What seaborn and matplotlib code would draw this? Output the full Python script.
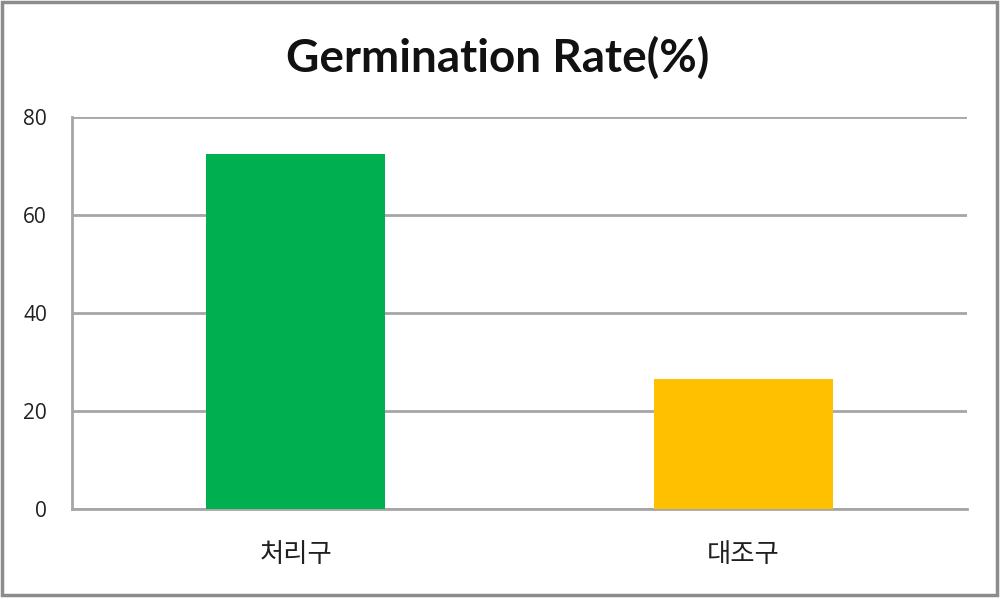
import matplotlib
matplotlib.use("Agg")
import matplotlib.pyplot as plt
import seaborn as sns
import pandas as pd
from matplotlib.patches import Rectangle

categories = ["처리구", "대조구"]
values = [72.4, 26.5]
colors = ["#00B050", "#FFC000"]
yticks = [0, 20, 40, 60, 80]
title = "Germination Rate(%)"

sns.set_style("white")
plt.rcParams['font.family'] = ['Noto Sans CJK KR', 'DejaVu Sans']

df = pd.DataFrame({"group": categories, "rate": values})

fig = plt.figure(figsize=(10, 6.01), dpi=100)
ax = fig.add_axes([0.072, 0.153, 0.895, 0.652])
sns.barplot(data=df, x="group", y="rate", hue="group", palette=colors,
            width=0.4, saturation=1, legend=False, ax=ax, zorder=3,
            linewidth=0, edgecolor="none")

grid_c = "#A6A6A6"
ax.set_ylim(0, 80)
ax.set_xlim(-0.5, 1.5)
ax.set_yticks(yticks)
ax.yaxis.grid(True, color=grid_c, linewidth=2, zorder=0)
ax.set_axisbelow(True)
for s in ["top", "right"]:
    ax.spines[s].set_visible(False)
for s in ["left", "bottom"]:
    ax.spines[s].set_color(grid_c)
    ax.spines[s].set_linewidth(2)

ax.set_xticks([0, 1])
ax.set_xticklabels(categories)
ax.set_xticks([-0.5, 0.5, 1.5], minor=True)
ax.tick_params(axis="x", which="major", length=0, pad=23, labelsize=19, labelcolor="#202020")
ax.tick_params(axis="x", which="minor", length=8, width=2, color=grid_c, direction="out")
ax.tick_params(axis="y", length=6, width=2, color=grid_c, pad=12, labelsize=15, labelcolor="#202020")
for lbl in ax.get_yticklabels():
    lbl.set_fontfamily(['Open Sans', 'DejaVu Sans'])
ax.set_xlabel("")
ax.set_ylabel("")

fig.text(0.498, 0.903, title, ha="center", va="center", fontsize=33,
         fontweight="bold", family=['Lato', 'DejaVu Sans'], color="#111111")

fig.patches.append(Rectangle((0.002, 0.01), 0.995, 0.987, transform=fig.transFigure,
                             fill=False, edgecolor="#8C8C8C", linewidth=2.5))

fig.savefig("out.png", dpi=100)
